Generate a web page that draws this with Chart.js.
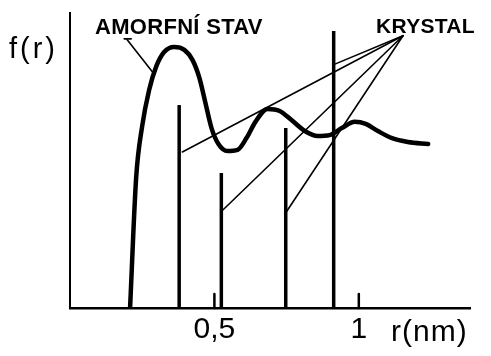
<!DOCTYPE html>
<html>
<head>
<meta charset="utf-8">
<script src="https://cdn.jsdelivr.net/npm/chart.js@4.4.0/dist/chart.umd.min.js"></script>
<style>
  html,body{margin:0;padding:0;background:#fff;}
  #c{display:block;}
</style>
</head>
<body>
<canvas id="c" width="491" height="356"></canvas>
<script>
// Amorphous state: f(r) curve
const curveR = [0.208,0.229,0.250,0.274,0.299,0.326,0.361,0.396,0.424,0.448,0.469,0.490,0.514,0.545,0.580,0.611,0.642,0.684,0.726,0.767,0.813,0.858,0.899,0.941,0.986,1.024,1.066,1.115,1.170,1.240];
const curveF = [0.00,4.41,6.17,7.39,8.20,8.68,8.85,8.75,8.41,7.80,6.95,6.10,5.56,5.32,5.36,5.76,6.31,6.75,6.68,6.37,6.00,5.83,5.86,6.10,6.31,6.24,6.00,5.76,5.63,5.56];
// Crystal: discrete lines
const crystalR = [0.378,0.524,0.747,0.913];
const crystalF = [6.88,4.58,6.10,9.39];
// x axis tick labels
const tickValues = [0.5,1];
const tickLabels = ['0,5','1'];
// labels
const amorfLabel = 'AMORFNÍ STAV';
const crystalLabel = 'KRYSTAL';
const yTitle = 'f(r)';
const xTitle = 'r(nm)';
// pointer anchors / targets (data units)
const amorfFrom = {x:0.198,y:9.09};
const amorfTo = {x:0.285,y:8.01};
const crystalFrom = {x:1.153,y:9.23};
const crystalTargets = [{x:0.389,y:5.29},{x:0.913,y:8.25},{x:0.524,y:3.27},{x:0.750,y:3.27}];

const datasets = [{
  type:'line',
  data: curveR.map((r,i)=>({x:r,y:curveF[i]})),
  borderColor:'#000', borderWidth:4.5, pointRadius:0,
  cubicInterpolationMode:'monotone', fill:false, borderCapStyle:'round'
}];
crystalR.forEach((r,i)=>{
  datasets.push({
    type:'line',
    data:[{x:r,y:0},{x:r,y:crystalF[i]}],
    borderColor:'#000', borderWidth:3.5, pointRadius:0, fill:false, borderCapStyle:'butt'
  });
});

const drawPlugin = {
  id:'drawPlugin',
  afterDatasetsDraw(chart){
    const ctx = chart.ctx, xs = chart.scales.x, ys = chart.scales.y;
    const px = p => [xs.getPixelForValue(p.x), ys.getPixelForValue(p.y)];
    ctx.save();
    ctx.strokeStyle = '#000';
    ctx.lineCap = 'round';
    // inward ticks
    ctx.lineWidth = 2.5;
    tickValues.forEach(v=>{
      const x = xs.getPixelForValue(v);
      ctx.beginPath(); ctx.moveTo(x, ys.bottom); ctx.lineTo(x, ys.bottom-14); ctx.stroke();
    });
    // pointer lines
    ctx.lineWidth = 1.6;
    let [ax,ay] = px(amorfFrom), [bx,by] = px(amorfTo);
    ctx.beginPath(); ctx.moveTo(ax-3,ay-1); ctx.lineTo(ax+4,ay-1); ctx.stroke();
    ctx.beginPath(); ctx.moveTo(ax,ay); ctx.lineTo(bx,by); ctx.stroke();
    const [cx,cy] = px(crystalFrom);
    crystalTargets.forEach(t=>{
      const [tx,ty] = px(t);
      ctx.beginPath(); ctx.moveTo(cx,cy); ctx.lineTo(tx,ty); ctx.stroke();
    });
    // texts
    ctx.fillStyle = '#000';
    ctx.textBaseline = 'alphabetic';
    ctx.textAlign = 'left';
    ctx.font = 'bold 22px "Liberation Sans", Arial, sans-serif';
    ctx.letterSpacing = '0.3px';
    ctx.fillText(amorfLabel, 95, 34);
    ctx.font = 'bold 21px "Liberation Sans", Arial, sans-serif';
    ctx.fillText(crystalLabel, 376, 33);
    ctx.font = '29px "Liberation Sans", Arial, sans-serif';
    ctx.letterSpacing = '3px';
    ctx.fillText(yTitle, 9, 58);
    ctx.letterSpacing = '1px';
    ctx.font = '30px "Liberation Sans", Arial, sans-serif';
    ctx.fillText(xTitle, 391, 341);
    ctx.restore();
  }
};

new Chart(document.getElementById('c'), {
  type:'line',
  data:{datasets},
  options:{
    responsive:false, animation:false, devicePixelRatio:1,
    layout:{padding:{left:70,right:21,top:13,bottom:4}},
    plugins:{legend:{display:false}, tooltip:{enabled:false}},
    scales:{
      x:{
        type:'linear', min:0, max:1.385,
        grid:{display:false, drawTicks:false},
        border:{display:true, color:'#000', width:2.5},
        afterBuildTicks:(scale)=>{ scale.ticks = tickValues.map(v=>({value:v})); },
        ticks:{
          autoSkip:false, maxRotation:0, padding:4, color:'#000',
          font:{family:'"Liberation Sans", Arial, sans-serif', size:30},
          callback:(v)=>{ const i = tickValues.indexOf(v); return i>=0 ? tickLabels[i] : ''; }
        }
      },
      y:{
        type:'linear', min:0, max:10,
        grid:{display:false, drawTicks:false},
        border:{display:true, color:'#000', width:2},
        ticks:{display:false}
      }
    }
  },
  plugins:[drawPlugin]
});
</script>
</body>
</html>
